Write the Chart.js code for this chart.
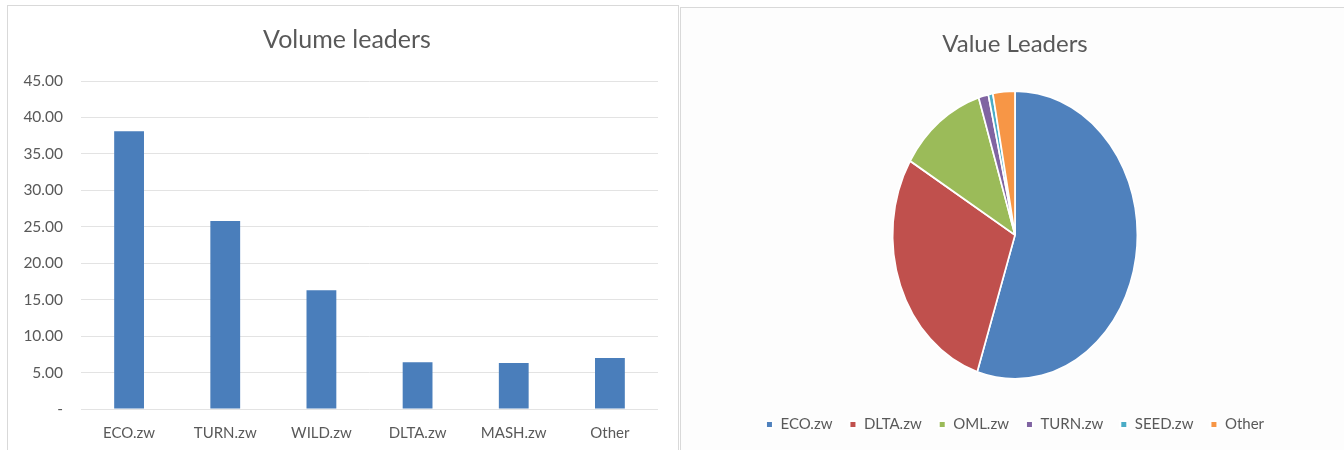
<!DOCTYPE html>
<html>
<head>
<meta charset="utf-8">
<script src="https://cdn.jsdelivr.net/npm/chart.js@4.4.0/dist/chart.umd.min.js"></script>
<style>
  html, body { margin: 0; padding: 0; width: 1344px; height: 450px; overflow: hidden; background: #ffffff; }
  .frame { position: absolute; border: 1px solid #d9d9d9; box-sizing: border-box; pointer-events: none; }
  canvas { position: absolute; top: 0; }
</style>
</head>
<body>
<div class="frame" style="left:7px; top:5px; width:672px; height:460px;"></div>
<div class="frame" style="left:680px; top:7px; width:670px; height:460px; background:#fdfdfd;"></div>
<canvas id="bar" width="678" height="450" style="left:0px;"></canvas>
<canvas id="pie" width="664" height="450" style="left:680px;"></canvas>
<script>
// ---- data ----
const barTitle = 'Volume leaders';
const barCategories = ['ECO.zw', 'TURN.zw', 'WILD.zw', 'DLTA.zw', 'MASH.zw', 'Other'];
const barValues = [38.1, 25.8, 16.3, 6.4, 6.3, 7.0];
const yTickValues = [0, 5, 10, 15, 20, 25, 30, 35, 40, 45];
const yTickLabels = ['-', '5.00', '10.00', '15.00', '20.00', '25.00', '30.00', '35.00', '40.00', '45.00'];

const pieTitle = 'Value Leaders';
const pieLabels = ['ECO.zw', 'DLTA.zw', 'OML.zw', 'TURN.zw', 'SEED.zw', 'Other'];
const pieValues = [55.0, 28.6, 11.6, 1.3, 0.6, 2.9];
const pieColors = ['#4f81bd', '#c0504d', '#9bbb59', '#8064a2', '#4bacc6', '#f79646'];

const FONT = 'Lato, "Open Sans", sans-serif';
const TEXT = '#595959';
Chart.defaults.font.family = FONT;
Chart.defaults.color = TEXT;

// shift the bar chart title so it is centred over the whole frame
const titleShift = {
  id: 'titleShift',
  afterLayout(chart) {
    if (chart.titleBlock) { chart.titleBlock.left += 36; }
  }
};

// ---- bar chart ----
new Chart(document.getElementById('bar'), {
  type: 'bar',
  data: {
    labels: barCategories,
    datasets: [{
      data: barValues,
      backgroundColor: '#4a7ebb',
      borderWidth: 0,
      categoryPercentage: 1.0,
      barPercentage: 0.31
    }]
  },
  options: {
    responsive: false,
    animation: false,
    devicePixelRatio: 1,
    layout: { padding: { left: 0, right: 20, top: 0, bottom: 8 } },
    plugins: {
      legend: { display: false },
      tooltip: { enabled: false },
      title: {
        display: true,
        text: barTitle,
        color: TEXT,
        font: { size: 25, weight: 'normal', family: FONT, lineHeight: 1.2 },
        padding: { top: 25, bottom: 26 }
      }
    },
    scales: {
      x: {
        grid: { display: false, drawTicks: false },
        border: { display: false },
        afterFit: (s) => { s.height = 33; },
        ticks: { color: TEXT, font: { size: 15, family: FONT }, padding: 15 }
      },
      y: {
        min: 0,
        max: 45,
        afterBuildTicks: (s) => { s.ticks = yTickValues.map(v => ({ value: v })); },
        afterFit: (s) => { s.width = 81; },
        grid: { color: '#e3e3e3', lineWidth: 1, drawTicks: false },
        border: { display: false },
        ticks: {
          color: TEXT,
          font: { size: 15.5, family: FONT },
          padding: 18,
          callback: (v) => { const i = yTickValues.indexOf(v); return i >= 0 ? yTickLabels[i] : ''; }
        }
      }
    }
  },
  plugins: [titleShift]
});

// ---- pie chart (drawn elliptically, as in the reference) ----
const ellipsePlugin = {
  id: 'ellipse',
  beforeDatasetsDraw(chart) {
    const arc = chart.getDatasetMeta(0).data[0];
    const cx = arc ? arc.x : (chart.chartArea.left + chart.chartArea.right) / 2;
    const ctx = chart.ctx;
    ctx.save();
    ctx.translate(cx, 0);
    ctx.scale(0.85, 1);
    ctx.translate(-cx, 0);
  },
  afterDatasetsDraw(chart) {
    chart.ctx.restore();
  }
};

new Chart(document.getElementById('pie'), {
  type: 'pie',
  data: {
    labels: pieLabels,
    datasets: [{
      data: pieValues,
      backgroundColor: pieColors,
      borderColor: '#ffffff',
      borderWidth: 2,
      radius: 144
    }]
  },
  options: {
    responsive: false,
    animation: false,
    devicePixelRatio: 1,
    layout: { padding: { left: 6, right: 0, top: 0, bottom: 8 } },
    plugins: {
      tooltip: { enabled: false },
      title: {
        display: true,
        text: pieTitle,
        color: TEXT,
        font: { size: 24, weight: 'normal', family: FONT, lineHeight: 1.2 },
        padding: { top: 29.6, bottom: 11.6 }
      },
      legend: {
        display: true,
        position: 'bottom',
        labels: {
          color: TEXT,
          font: { size: 15, family: FONT },
          boxWidth: 7,
          boxHeight: 7,
          padding: 17
        }
      }
    }
  },
  plugins: [ellipsePlugin]
});
</script>
</body>
</html>
